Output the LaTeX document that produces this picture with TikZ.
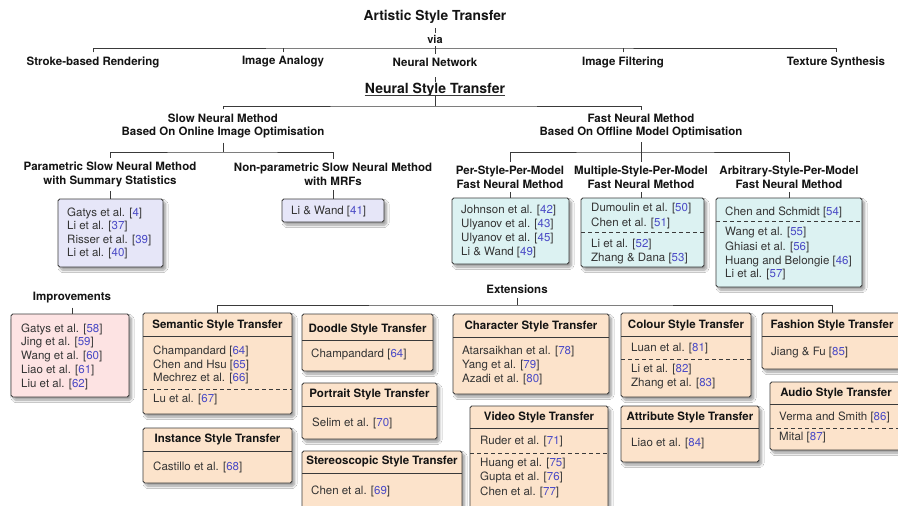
\documentclass[tikz,border=0pt]{standalone}
\usepackage{fontspec}
\setmainfont{TeX Gyre Heros}
\usetikzlibrary{shadows.blur}

\definecolor{slowfill}{HTML}{E6E6F8}
\definecolor{fastfill}{HTML}{DCF2F2}
\definecolor{impfill}{HTML}{FDE3E3}
\definecolor{extfill}{HTML}{FCE3CB}
\definecolor{refblue}{HTML}{4B4BC6}
\definecolor{bodygray}{HTML}{333333}
\definecolor{linegray}{HTML}{3A3A3A}

% citation number in brackets
\newcommand\rf[1]{[\textcolor{refblue}{#1}]}
% framed panel: name, style, x1, y1, x2, y2
\newcommand\panel[6]{%
  \pgfmathsetmacro\pnlw{#5-#3}\pgfmathsetmacro\pnlh{#6-#4}%
  \node[#2, minimum width=\pnlw pt, minimum height=\pnlh pt] (#1) at (#3,#4) {};}
% panel heading: panel name, text, y
\newcommand\phead[3]{\node[hd] (#1h) at (#1.center |- 0,#3) {#2};}
% solid and dashed separators across a panel
\newcommand\psep[2]{\draw[sep] (#1.west |- 0,#2) -- (#1.east |- 0,#2);}
\newcommand\pdsep[2]{\draw[sep, dashed, dash pattern=on 4pt off 3pt] (#1.west |- 0,#2) -- (#1.east |- 0,#2);}

\tikzset{
  lbl/.style={font=\bfseries\fontsize{11.5}{13.7}\selectfont, align=center,
    inner xsep=2pt, inner ysep=4pt, text=black!92},
  hd/.style={font=\bfseries\fontsize{11.5}{13.7}\selectfont, inner sep=0pt, text=black!92},
  cit/.style={font=\fontsize{11.5}{13.7}\selectfont, anchor=west, inner sep=0pt, text=bodygray},
  link/.style={draw=linegray, line width=0.8pt},
  sep/.style={draw=linegray, line width=0.8pt},
  panelbox/.style={draw=linegray, line width=0.9pt, rounded corners=1.8pt,
    anchor=north west, inner sep=0pt, outer sep=0pt,
    blur shadow={shadow xshift=2.5pt, shadow yshift=-3pt, shadow blur radius=2.5pt,
      shadow blur steps=8, shadow opacity=40}},
  slowbox/.style={panelbox, fill=slowfill},
  fastbox/.style={panelbox, fill=fastfill},
  impbox/.style={panelbox, fill=impfill},
  extbox/.style={panelbox, fill=extfill},
}

\begin{document}
\begin{tikzpicture}[x=1pt, y=-1pt]
\useasboundingbox (0,0) rectangle (898,506);
\fill[white] (0,0) rectangle (898,506);
\clip (0,0) rectangle (898,506);

% ---------- top level ----------
\node[lbl, font=\bfseries\fontsize{13.8}{16}\selectfont] (title) at (435,17) {Artistic Style Transfer};
\coordinate (bar1) at (435,48);
\draw[link] (title.south) -- (bar1);
\node[lbl, font=\bfseries\fontsize{11}{13}\selectfont, fill=white, inner ysep=2pt] (via) at (435,39.5) {via};

\node[lbl] (c1) at (93,62) {Stroke-based Rendering};
\node[lbl] (c2) at (283,62) {Image Analogy};
\node[lbl] (c3) at (435,62) {Neural Network};
\node[lbl] (c4) at (623,62) {Image Filtering};
\node[lbl] (c5) at (836,62) {Texture Synthesis};
\draw[link] (c1.north) |- (bar1) -| (c5.north);
\draw[link] (c2.north) -- (c2.north |- bar1);
\draw[link] (c3.north) -- (bar1);
\draw[link] (c4.north) -- (c4.north |- bar1);

\node[font=\bfseries\fontsize{14}{16}\selectfont, inner sep=0pt, text depth=2pt, anchor=base, text=black!92]
  (nst) at (435,93) {Neural Style Transfer};
\draw[link] (nst.south west) -- (nst.south east);
\draw[link, shorten <=7pt] (c3.south) -- (nst.north);

% ---------- slow / fast ----------
\coordinate (bar2) at (435,106);
\node[lbl] (slow) at (223,126) {Slow Neural Method\\Based On Online Image Optimisation};
\node[lbl] (fast) at (641,126) {Fast Neural Method\\Based On Offline Model Optimisation};
\draw[link] (nst.south) -- (bar2);
\draw[link] (slow.north) |- (bar2) -| (fast.north);

\coordinate (bar3) at (223,152);
\node[lbl] (param) at (110,174.5) {Parametric Slow Neural Method\\with Summary Statistics};
\node[lbl] (mrf) at (333,174.5) {Non-parametric Slow Neural Method\\with MRFs};
\draw[link] (slow.south) -- (bar3);
\draw[link] (param.north) |- (bar3) -| (mrf.north);

\coordinate (bar4) at (641,152);
\node[lbl] (per) at (510,177) {Per-Style-Per-Model\\Fast Neural Method};
\node[lbl] (multi) at (641,177) {Multiple-Style-Per-Model\\Fast Neural Method};
\node[lbl] (arb) at (789,177) {Arbitrary-Style-Per-Model\\Fast Neural Method};
\draw[link] (fast.south) -- (bar4);
\draw[link] (per.north) |- (bar4) -| (arb.north);
\draw[link] (multi.north) -- (bar4);

% ---------- method panels ----------
\panel{pbox}{slowbox}{58}{199}{163}{267}
\node[cit] (p1) at (67,213) {Gatys et al. \rf{4}};
\node[cit] (p2) at (67,227) {Li et al. \rf{37}};
\node[cit] (p3) at (67,240.5) {Risser et al. \rf{39}};
\node[cit] (p4) at (67,254) {Li et al. \rf{40}};
\draw[link] (param.south) -- (param.south |- pbox.north);

\panel{mbox}{slowbox}{282}{199}{384}{222}
\node[cit] (m1) at (291,211.5) {Li \& Wand \rf{41}};
\draw[link] (mrf.south) -- (mrf.south |- mbox.north);

\panel{perbox}{fastbox}{452}{198}{569}{264}
\node[cit] (f1) at (461,211) {Johnson et al. \rf{42}};
\node[cit] (f2) at (461,225) {Ulyanov et al. \rf{43}};
\node[cit] (f3) at (461,239) {Ulyanov et al. \rf{45}};
\node[cit] (f4) at (461,253) {Li \& Wand \rf{49}};
\draw[link] (per.south) -- (per.south |- perbox.north);

\panel{multibox}{fastbox}{581}{198}{704}{267}
\node[cit] (u1) at (591,209) {Dumoulin et al. \rf{50}};
\node[cit] (u2) at (591,223) {Chen et al. \rf{51}};
\pdsep{multibox}{232}
\node[cit] (u3) at (591,245) {Li et al. \rf{52}};
\node[cit] (u4) at (591,259) {Zhang \& Dana \rf{53}};
\draw[link] (multi.south) -- (multi.south |- multibox.north);

\panel{arbbox}{fastbox}{716}{198}{862}{287}
\node[cit] (a1) at (725,212) {Chen and Schmidt \rf{54}};
\pdsep{arbbox}{221}
\node[cit] (a2) at (725,233) {Wang et al. \rf{55}};
\node[cit] (a3) at (725,247) {Ghiasi et al. \rf{56}};
\node[cit] (a4) at (725,261.5) {Huang and Belongie \rf{46}};
\node[cit] (a5) at (725,275) {Li et al. \rf{57}};
\draw[link] (arb.south) -- (arb.south |- arbbox.north);

% ---------- improvements ----------
\node[lbl] (imp) at (72,298) {Improvements};
\panel{ibox}{impbox}{11}{314}{129}{397}
\node[cit] (i1) at (21,329) {Gatys et al. \rf{58}};
\node[cit] (i2) at (21,343) {Jing et al. \rf{59}};
\node[cit] (i3) at (21,357) {Wang et al. \rf{60}};
\node[cit] (i4) at (21,371) {Liao et al. \rf{61}};
\node[cit] (i5) at (21,384.5) {Liu et al. \rf{62}};
\draw[link] (imp.south) -- (imp.south |- ibox.north);

% ---------- extensions ----------
\node[lbl] (ext) at (517,289) {Extensions};
\coordinate (bar5) at (517,305);
\draw[link] (ext.south) -- (bar5);

\panel{sem}{extbox}{143}{313}{292}{414}
\phead{sem}{Semantic Style Transfer}{325}
\psep{sem}{336}
\node[cit] (s1) at (153,351) {Champandard \rf{64}};
\node[cit] (s2) at (153,365) {Chen and Hsu \rf{65}};
\node[cit] (s3) at (153,379) {Mechrez et al. \rf{66}};
\pdsep{sem}{389}
\node[cit] (s4) at (153,400) {Lu et al. \rf{67}};

\panel{inst}{extbox}{143}{428}{292}{483}
\phead{inst}{Instance Style Transfer}{439}
\psep{inst}{451}
\node[cit] (n1) at (153,467) {Castillo et al. \rf{68}};

\panel{dood}{extbox}{302}{314}{433}{371}
\phead{dood}{Doodle Style Transfer}{329}
\psep{dood}{340}
\node[cit] (d1) at (311,354) {Champandard \rf{64}};

\panel{port}{extbox}{302}{383}{437}{439}
\phead{port}{Portrait Style Transfer}{394}
\psep{port}{406}
\node[cit] (o1) at (312,423) {Selim et al. \rf{70}};

\panel{ster}{extbox}{302}{451}{462}{520}
\phead{ster}{Stereoscopic Style Transfer}{461}
\psep{ster}{473}
\node[cit] (t1) at (311,491) {Chen et al. \rf{69}};

\panel{char}{extbox}{453}{314}{609}{394}
\phead{char}{Character Style Transfer}{326}
\psep{char}{337}
\node[cit] (h1) at (462,352) {Atarsaikhan et al. \rf{78}};
\node[cit] (h2) at (462,366) {Yang et al. \rf{79}};
\node[cit] (h3) at (462,380) {Azadi et al. \rf{80}};

\panel{vid}{extbox}{470}{406}{608}{520}
\phead{vid}{Video Style Transfer}{417}
\psep{vid}{428}
\node[cit] (v1) at (480,442) {Ruder et al. \rf{71}};
\pdsep{vid}{453}
\node[cit] (v2) at (480,463.5) {Huang et al. \rf{75}};
\node[cit] (v3) at (480,477.5) {Gupta et al. \rf{76}};
\node[cit] (v4) at (480,492) {Chen et al. \rf{77}};

\panel{col}{extbox}{621}{313}{751}{397}
\phead{col}{Colour Style Transfer}{325}
\psep{col}{336}
\node[cit] (k1) at (631,349) {Luan et al. \rf{81}};
\pdsep{col}{359}
\node[cit] (k2) at (631,370) {Li et al. \rf{82}};
\node[cit] (k3) at (631,384) {Zhang et al. \rf{83}};

\panel{attr}{extbox}{621}{406}{759}{462}
\phead{attr}{Attribute Style Transfer}{417}
\psep{attr}{428}
\node[cit] (b1) at (631,444) {Liao et al. \rf{84}};

\panel{fash}{extbox}{762}{313}{902}{369}
\phead{fash}{Fashion Style Transfer}{325}
\psep{fash}{336}
\node[cit] (j1) at (771,353) {Jiang \& Fu \rf{85}};

\panel{aud}{extbox}{770}{382}{902}{450}
\phead{aud}{Audio Style Transfer}{393}
\psep{aud}{404}
\node[cit] (w1) at (779,417) {Verma and Smith \rf{86}};
\pdsep{aud}{428}
\node[cit] (w2) at (779,438) {Mital \rf{87}};

\draw[link] (sem.north) |- (bar5) -| (fash.north);
\end{tikzpicture}
\end{document}
